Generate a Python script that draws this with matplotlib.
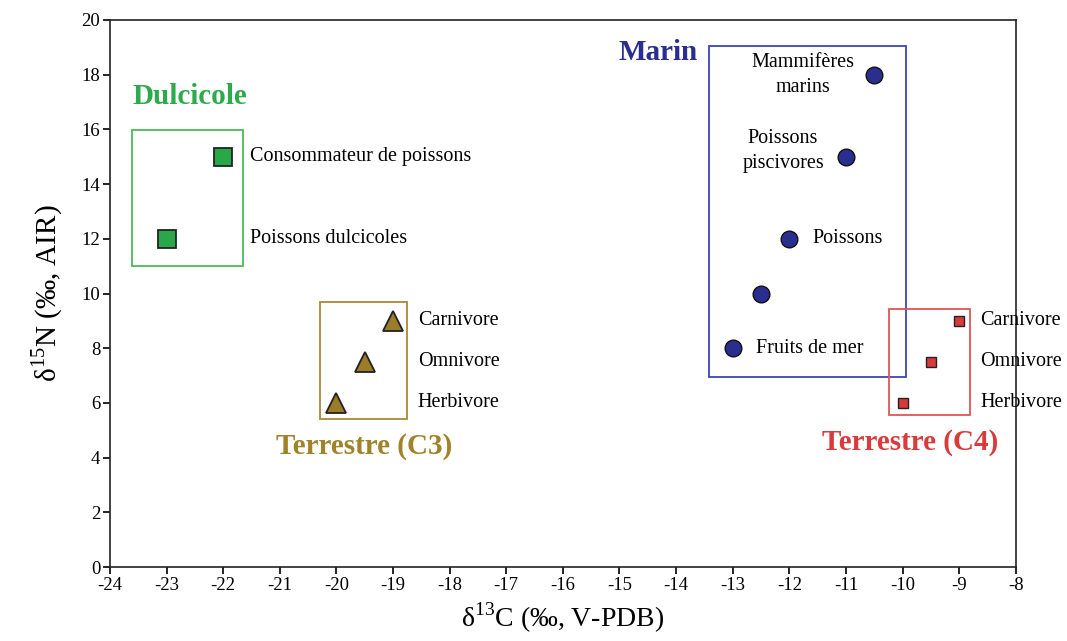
import matplotlib
matplotlib.use('Agg')
import matplotlib.pyplot as plt
from matplotlib.patches import Rectangle

plt.rcParams.update({'font.family': 'Liberation Serif', 'mathtext.fontset': 'custom',
                     'mathtext.rm': 'Liberation Serif', 'font.size': 12,
                     'axes.unicode_minus': False})

# data (delta13C, delta15N)
dulc_x = [-23, -22]
dulc_y = [12, 15]
dulc_lab = ['Poissons dulcicoles', 'Consommateur de poissons']

c3_x = [-20, -19.5, -19]
c3_y = [6, 7.5, 9]
c3_lab = ['Herbivore', 'Omnivore', 'Carnivore']

marin_x = [-13, -12.5, -12, -11, -10.5]
marin_y = [8, 10, 12, 15, 18]

c4_x = [-10, -9.5, -9]
c4_y = [6, 7.5, 9]
c4_lab = ['Herbivore', 'Omnivore', 'Carnivore']

GREEN, OLIVE, BLUE, RED = '#29a84a', '#9c7c28', '#2a2f8f', '#d8393a'

fig = plt.figure(figsize=(10.67, 6.41), dpi=100)
ax = fig.add_axes([0.103, 0.1154, 0.849, 0.8534])

ax.plot(dulc_x, dulc_y, 's', ms=13.5, mfc=GREEN, mec='#222222', mew=1.3, ls='none')
ax.plot(c3_x, c3_y, '^', ms=15, mfc=OLIVE, mec='#222222', mew=1.3, ls='none')
ax.plot(marin_x, marin_y, 'o', ms=12, mfc=BLUE, mec='#111111', mew=1.0, ls='none')
ax.plot(c4_x, c4_y, 's', ms=7.5, mfc=RED, mec='#222222', mew=1.0, ls='none')

# group boxes
ax.add_patch(Rectangle((-23.61, 11.0), 1.96, 4.98, fill=False, ec='#4cbb5c', lw=1.3))
ax.add_patch(Rectangle((-20.29, 5.41), 1.54, 4.28, fill=False, ec='#a88a35', lw=1.3))
ax.add_patch(Rectangle((-13.42, 6.95), 3.48, 12.1, fill=False, ec='#3d46b0', lw=1.3))
ax.add_patch(Rectangle((-10.24, 5.56), 1.44, 3.87, fill=False, ec='#e05555', lw=1.3))

# group titles
ax.text(-23.61, 17.2, 'Dulcicole', color='#2eaa4c', fontsize=21, fontweight='bold', va='center')
ax.text(-19.51, 4.4, 'Terrestre (C3)', color='#a08228', fontsize=21, fontweight='bold',
        ha='center', va='center')
ax.text(-15.02, 18.8, 'Marin', color=BLUE, fontsize=21, fontweight='bold', va='center')
ax.text(-9.87, 4.55, 'Terrestre (C4)', color='#d93a3a', fontsize=21, fontweight='bold',
        ha='center', va='center')

# point labels
for y, s in zip(dulc_y, dulc_lab):
    ax.text(-21.53, y, s, fontsize=14.5, va='center')
for y, s in zip(c3_y, c3_lab):
    ax.text(-18.56, y, s, fontsize=14.5, va='center')
for y, s in zip(c4_y, c4_lab):
    ax.text(-8.63, y, s, fontsize=14.5, va='center')
ax.text(-11.76, 18.0, 'Mammifères\nmarins', fontsize=14.5, ha='center', va='center',
        linespacing=1.4)
ax.text(-12.11, 15.2, 'Poissons\npiscivores', fontsize=14.5, ha='center', va='center',
        linespacing=1.4)
ax.text(-11.6, 12.0, 'Poissons', fontsize=14.5, va='center')
ax.text(-12.59, 8.0, 'Fruits de mer', fontsize=14.5, va='center')

ax.set_xlim(-24, -8)
ax.set_ylim(0, 20)
ax.set_xticks(range(-24, -7))
ax.set_yticks(range(0, 21, 2))
ax.tick_params(direction='out', length=5, width=1.2, labelsize=13.5, pad=2,
               top=False, right=False)
for sp in ax.spines.values():
    sp.set_linewidth(1.2)
    sp.set_color('#222222')

ax.set_xlabel('δ$^{13}$C (‰, V-PDB)', fontsize=20, labelpad=5)
ax.set_ylabel('δ$^{15}$N (‰, AIR)', fontsize=21, labelpad=12)

fig.savefig('out.png', dpi=100)
